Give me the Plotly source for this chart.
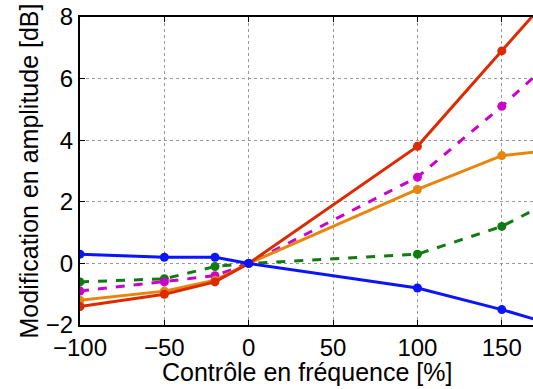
import plotly.graph_objects as go

x_vals = [-100, -50, -20, 0, 100, 150, 200]
blue = [0.3, 0.2, 0.2, 0.0, -0.8, -1.5, -2.3]
red = [-1.4, -1.0, -0.6, 0.0, 3.8, 6.9, 10.0]
orange = [-1.2, -0.9, -0.55, 0.0, 2.4, 3.5, 3.8]
magenta = [-0.9, -0.6, -0.4, 0.0, 2.8, 5.1, 7.6]
green = [-0.6, -0.5, -0.1, 0.0, 0.3, 1.2, 2.6]

x_ticks = [-100, -50, 0, 50, 100, 150]
y_ticks = [-2, 0, 2, 4, 6, 8]

series = [
    ("green", green, "#117A11", "dash"),
    ("magenta", magenta, "#CC00CC", "dash"),
    ("orange", orange, "#E8850C", "solid"),
    ("red", red, "#DD2A00", "solid"),
    ("blue", blue, "#0A14FF", "solid"),
]

fig = go.Figure()
for name, ys, col, dash in series:
    fig.add_trace(go.Scatter(
        x=x_vals, y=ys, name=name, mode="lines+markers",
        line=dict(color=col, width=3, dash=dash),
        marker=dict(color=col, size=9),
        cliponaxis=True,
    ))

font_family = "Liberation Sans, Arial, sans-serif"
fig.update_layout(
    width=533, height=389,
    margin=dict(l=80, r=0, t=17, b=64),
    paper_bgcolor="white", plot_bgcolor="white",
    showlegend=False,
    font=dict(family=font_family, color="black"),
)
fig.add_annotation(
    text="Contrôle en fréquence [%]", xref="paper", yref="paper",
    x=0.5, y=0, yshift=-47, xanchor="center", yanchor="middle",
    showarrow=False, font=dict(size=25, family=font_family, color="black"),
)
fig.update_xaxes(
    range=[-100, 168.5], tickvals=x_ticks, automargin=False,
    ticklabeloverflow="allow",
    showgrid=True, gridcolor="#999999", griddash="dot", gridwidth=1,
    zeroline=False, showline=True, linecolor="black", linewidth=2,
    mirror="ticks", ticks="inside", ticklen=5, tickcolor="black",
    tickfont=dict(size=24, family=font_family),
)
fig.update_yaxes(
    range=[-2, 8], tickvals=y_ticks, automargin=False,
    ticklabeloverflow="allow",
    showgrid=True, gridcolor="#999999", griddash="dot", gridwidth=1,
    zeroline=False, showline=True, linecolor="black", linewidth=2,
    ticks="inside", ticklen=5, tickcolor="black",
    tickfont=dict(size=24, family=font_family),
    title=dict(text="Modification en amplitude [dB]", font=dict(size=25, family=font_family), standoff=0),
)

fig.write_html("out.html", config={"displayModeBar": False},
               post_script="document.body.style.margin='0';")
